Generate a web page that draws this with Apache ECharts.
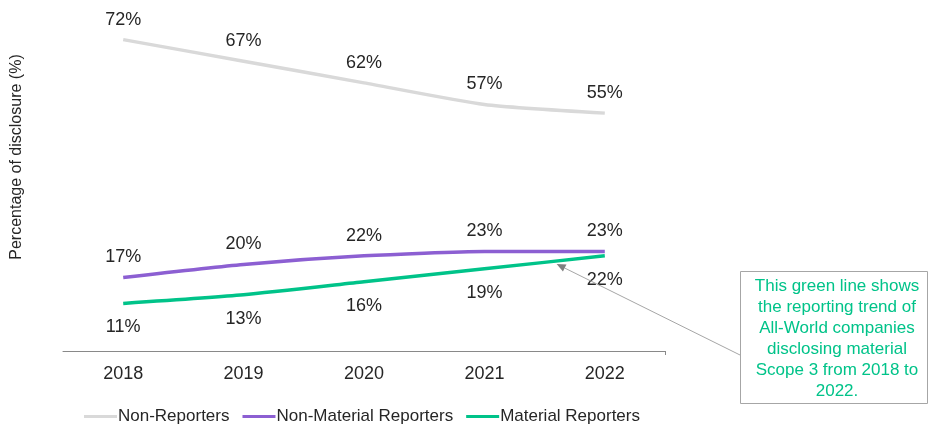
<!DOCTYPE html>
<html>
<head>
<meta charset="utf-8">
<script src="https://cdn.jsdelivr.net/npm/echarts@6/dist/echarts.min.js"></script>
<style>
  html, body { margin: 0; padding: 0; background: #fff; }
  #chart { width: 929px; height: 428px; }
</style>
</head>
<body>
<div id="chart"></div>
<script>
// Scope 3 disclosure shares, All-World companies
const years = ['2018', '2019', '2020', '2021', '2022'];
const nonReporters = [72, 67, 62, 57, 55];
const nonMaterialReporters = [17, 20, 22, 23, 23];
const materialReporters = [11, 13, 16, 19, 22];

const FONT = '"Liberation Sans", Arial, sans-serif';
const GRAY = '#d9d9d9';
const PURPLE = '#8c5fd2';
const GREEN = '#00c389';
const TEXT = '#262626';

function lineSeries(name, data, color, labelPos, labelGap) {
  return {
    name: name,
    type: 'line',
    data: data,
    smooth: 0.2,
    symbol: 'circle',
    symbolSize: 0,
    showSymbol: true,
    lineStyle: { color: color, width: 3.5 },
    itemStyle: { color: color },
    label: {
      show: true,
      position: labelPos,
      distance: labelGap,
      formatter: '{c}%',
      color: TEXT,
      fontFamily: FONT,
      fontSize: 18
    },
    emphasis: { disabled: true },
    z: name === 'Material Reporters' ? 4 : 3
  };
}

const chart = echarts.init(document.getElementById('chart'));
chart.setOption({
  animation: false,
  backgroundColor: '#fff',
  grid: { left: 63, right: 264, top: 5, bottom: 77, containLabel: false },
  xAxis: {
    type: 'category',
    data: years,
    boundaryGap: true,
    axisLine: { lineStyle: { color: '#898989', width: 1 } },
    axisTick: { alignWithLabel: true, length: 4, lineStyle: { color: '#898989' } },
    axisLabel: { color: TEXT, fontFamily: FONT, fontSize: 18, margin: 14 }
  },
  yAxis: {
    type: 'value',
    min: 0,
    max: 80,
    show: false
  },
  legend: {
    left: 84,
    top: 408,
    padding: 0,
    icon: 'rect',
    itemWidth: 33,
    itemHeight: 3,
    itemGap: 13,
    textStyle: { color: TEXT, fontFamily: FONT, fontSize: 17, padding: [0, 0, 0, -4] },
    data: ['Non-Reporters', 'Non-Material Reporters', 'Material Reporters']
  },
  series: [
    lineSeries('Non-Reporters', nonReporters, GRAY, 'top', 11),
    lineSeries('Non-Material Reporters', nonMaterialReporters, PURPLE, 'top', 11),
    lineSeries('Material Reporters', materialReporters, GREEN, 'bottom', 15)
  ]
});

// Callout box, arrow to the green line, y-axis title and closing axis tick
const p3 = chart.convertToPixel({ seriesIndex: 2 }, [3, materialReporters[3]]);
const p4 = chart.convertToPixel({ seriesIndex: 2 }, [4, materialReporters[4]]);
const f = 0.6;
const tip = [p3[0] + (p4[0] - p3[0]) * f, p3[1] + (p4[1] - p3[1]) * f + 3];
const tail = [740, 355];
const ang = Math.atan2(tail[1] - tip[1], tail[0] - tip[0]);
const hl = 9, hw = 4;
const bx = tip[0] + Math.cos(ang) * hl, by = tip[1] + Math.sin(ang) * hl;
const head = [
  tip,
  [bx - Math.sin(ang) * hw, by + Math.cos(ang) * hw],
  [bx + Math.sin(ang) * hw, by - Math.cos(ang) * hw]
];
const axisEnd = chart.convertToPixel({ yAxisIndex: 0 }, 0);

chart.setOption({
  graphic: [
    {
      type: 'text',
      x: 17, y: 157,
      rotation: Math.PI / 2,
      style: {
        text: 'Percentage of disclosure (%)',
        fill: TEXT,
        font: '16px ' + FONT,
        align: 'center',
        verticalAlign: 'middle'
      }
    },
    {
      type: 'line',
      shape: { x1: 665.5, y1: axisEnd, x2: 665.5, y2: axisEnd + 4 },
      style: { stroke: '#898989', lineWidth: 1 }
    },
    {
      type: 'line',
      shape: { x1: tail[0], y1: tail[1], x2: bx, y2: by },
      style: { stroke: '#a6a6a6', lineWidth: 1 },
      z: 10
    },
    {
      type: 'polygon',
      shape: { points: head },
      style: { fill: '#7f7f7f' },
      z: 10
    },
    {
      type: 'rect',
      shape: { x: 740.5, y: 271.5, width: 187, height: 132 },
      style: { fill: '#fff', stroke: '#a6a6a6', lineWidth: 1 },
      z: 10
    },
    {
      type: 'text',
      x: 837, y: 339,
      z: 11,
      style: {
        text: 'This green line shows\nthe reporting trend of\nAll-World companies\ndisclosing material\nScope 3 from 2018 to\n2022.',
        fill: GREEN,
        font: '17px ' + FONT,
        lineHeight: 21,
        align: 'center',
        verticalAlign: 'middle'
      }
    }
  ]
});
</script>
</body>
</html>
